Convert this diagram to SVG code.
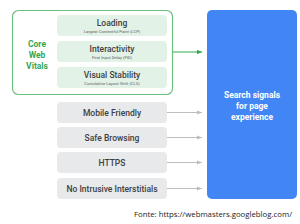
<svg xmlns="http://www.w3.org/2000/svg" width="300" height="224" viewBox="0 0 300 224">
<style>
.t{font-family:"Roboto","Liberation Sans",sans-serif;text-anchor:middle}
.h{font-size:8.5px;font-weight:500;fill:#3c4043}
.s{font-size:4.2px;fill:#5f6368}
.g{fill:#e3f2e6}
.gr{fill:#e8e9eb}
.c{stroke-width:1;fill:none}
</style>
<defs>
<marker id="ag" markerWidth="6" markerHeight="6" refX="5" refY="3" orient="auto" markerUnits="userSpaceOnUse"><path d="M0,0.8 L5,3 L0,5.2z" fill="#34a853"/></marker>
<marker id="ay" markerWidth="6" markerHeight="6" refX="5" refY="3" orient="auto" markerUnits="userSpaceOnUse"><path d="M0,1 L5,3 L0,5z" fill="#bdbdbd"/></marker>
</defs>
<rect width="300" height="224" fill="#fff"/>
<g id="cwv">
<rect x="12.5" y="10.5" width="160" height="84" rx="6" fill="none" stroke="#6cc07e" stroke-width="1.2"/>
<text class="t" x="37" y="47" font-size="8.5" font-weight="700" fill="#34a853">Core</text>
<text class="t" x="37" y="58" font-size="8.5" font-weight="700" fill="#34a853">Web</text>
<text class="t" x="37" y="69" font-size="8.5" font-weight="700" fill="#34a853">Vitals</text>
</g>
<g id="loading">
<rect class="g" x="57" y="15" width="110" height="21" rx="4"/>
<text class="t h" x="112" y="26">Loading</text>
<text class="t s" x="112" y="33">Largest Contentful Paint (LCP)</text>
</g>
<g id="interactivity">
<rect class="g" x="57" y="41" width="110" height="21" rx="4"/>
<text class="t h" x="112" y="52">Interactivity</text>
<text class="t s" x="112" y="59">First Input Delay (FID)</text>
</g>
<g id="visual">
<rect class="g" x="57" y="67" width="110" height="21" rx="4"/>
<text class="t h" x="112" y="78">Visual Stability</text>
<text class="t s" x="112" y="85">Cumulative Layout Shift (CLS)</text>
</g>
<g id="mobile">
<rect class="gr" x="57" y="102" width="110" height="21" rx="4"/>
<text class="t h" x="112" y="115.5" font-weight="400">Mobile Friendly</text>
</g>
<g id="safe">
<rect class="gr" x="57" y="127" width="110" height="21" rx="4"/>
<text class="t h" x="112" y="140.5" font-weight="400">Safe Browsing</text>
</g>
<g id="https">
<rect class="gr" x="57" y="152" width="110" height="21" rx="4"/>
<text class="t h" x="112" y="165.5" font-weight="400">HTTPS</text>
</g>
<g id="interstitials">
<rect class="gr" x="57" y="178" width="110" height="21" rx="4"/>
<text class="t h" x="112" y="191.5" font-weight="400">No Intrusive Interstitials</text>
</g>
<g id="search">
<rect x="207" y="10" width="90" height="189" rx="5" fill="#4285f4"/>
<text class="t" x="252" y="98" font-size="8.5" font-weight="700" fill="#fff">Search signals</text>
<text class="t" x="252" y="109" font-size="8.5" font-weight="700" fill="#fff">for page</text>
<text class="t" x="252" y="120" font-size="8.5" font-weight="700" fill="#fff">experience</text>
</g>
<g id="connectors">
<line class="c" x1="173" y1="52" x2="202" y2="52" stroke="#34a853" marker-end="url(#ag)"/>
<line class="c" x1="167" y1="112.5" x2="202" y2="112.5" stroke="#bdbdbd" marker-end="url(#ay)"/>
<line class="c" x1="167" y1="137.5" x2="202" y2="137.5" stroke="#bdbdbd" marker-end="url(#ay)"/>
<line class="c" x1="167" y1="162.5" x2="202" y2="162.5" stroke="#bdbdbd" marker-end="url(#ay)"/>
<line class="c" x1="167" y1="188.5" x2="202" y2="188.5" stroke="#bdbdbd" marker-end="url(#ay)"/>
</g>
<text x="292" y="217" font-family="'Open Sans','Liberation Sans',sans-serif" font-size="7.3" text-anchor="end" fill="#222" textLength="158" lengthAdjust="spacingAndGlyphs">Fonte: https://webmasters.googleblog.com/</text>
</svg>
